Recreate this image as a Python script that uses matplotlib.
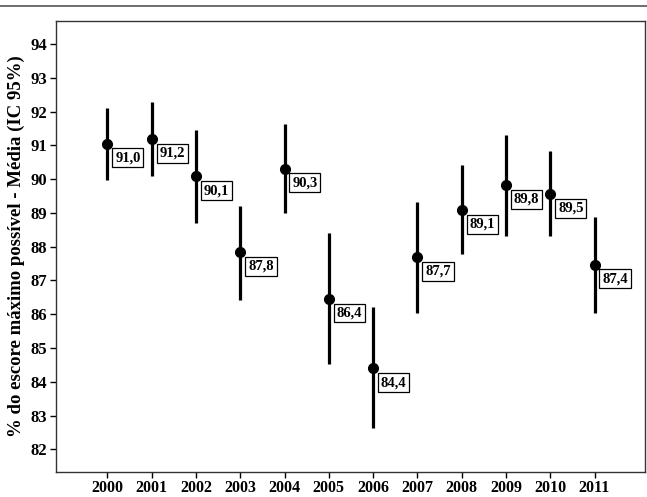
import matplotlib
matplotlib.use("Agg")
import matplotlib.pyplot as plt
from matplotlib.lines import Line2D

# values
years = ["2000", "2001", "2002", "2003", "2004", "2005",
         "2006", "2007", "2008", "2009", "2010", "2011"]
means = [91.05, 91.19, 90.08, 87.84, 90.31, 86.46, 84.40, 87.69, 89.09, 89.82, 89.56, 87.47]
ci_low = [89.98, 90.08, 88.70, 86.41, 89.00, 84.52, 82.62, 86.05, 87.78, 88.33, 88.31, 86.03]
ci_high = [92.11, 92.29, 91.44, 89.21, 91.62, 88.40, 86.20, 89.31, 90.41, 91.30, 90.82, 88.88]
labels = ["91,0", "91,2", "90,1", "87,8", "90,3", "86,4",
          "84,4", "87,7", "89,1", "89,8", "89,5", "87,4"]
y_ticks = list(range(82, 95))

plt.rcParams['font.family'] = ['Liberation Serif', 'DejaVu Serif']
plt.rcParams['font.weight'] = 'bold'

fig = plt.figure(figsize=(6.47, 4.97), dpi=100)
ax = fig.add_axes([56 / 647, 1 - 472 / 497, (645 - 56) / 647, (472 - 21) / 497])

x = list(range(len(years)))
ax.vlines(x, ci_low, ci_high, color='black', linewidth=2.3)
ax.plot(x, means, 'o', color='black', markersize=7, linestyle='none')

for xi, m, lab in zip(x, means, labels):
    ax.annotate(lab, (xi, m), xytext=(5.6, -5.6), textcoords='offset points',
                ha='left', va='top', fontsize=10.5, fontweight='bold',
                bbox=dict(boxstyle='square,pad=0.2', facecolor='white',
                          edgecolor='black', linewidth=0.9))

ax.set_xlim(-1.16, 12.14)
ax.set_ylim(81.33, 94.68)
ax.set_xticks(x)
ax.set_xticklabels(years, fontsize=11.5, fontweight='bold')
ax.set_yticks(y_ticks)
ax.set_yticklabels([str(t) for t in y_ticks], fontsize=12, fontweight='bold')
ax.tick_params(direction='out', length=4.5, width=1, pad=2)
ax.tick_params(axis='x', pad=1)
ax.set_ylabel('% do escore máximo possível - Média (IC 95%)', fontsize=13.5,
              fontweight='bold', labelpad=4)
for sp in ax.spines.values():
    sp.set_linewidth(1)
    sp.set_color('#333333')

# thin rule across the top of the page
fig.add_artist(Line2D([0, 1], [1 - 6 / 497, 1 - 6 / 497], color='#555555',
                      linewidth=1.2, transform=fig.transFigure))

fig.savefig('out.png', dpi=100)
